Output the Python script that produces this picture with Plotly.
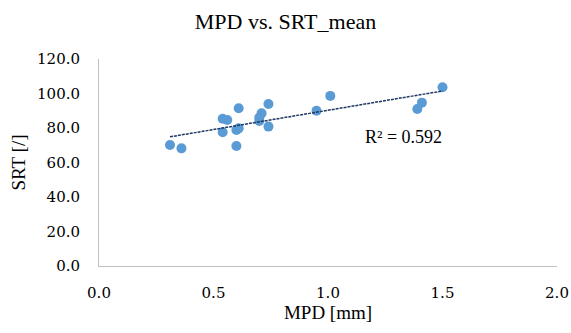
import numpy as np
import plotly.graph_objects as go

mpd = [0.31, 0.36, 0.54, 0.54, 0.56, 0.61, 0.60, 0.60, 0.61, 0.70, 0.71, 0.70, 0.74, 0.74, 0.95, 1.01, 1.39, 1.41, 1.50]
srt = [70.1, 68.2, 77.5, 85.4, 84.6, 91.4, 69.6, 78.8, 79.8, 84.1, 88.5, 86.0, 93.9, 80.8, 90.0, 98.6, 91.0, 94.7, 103.6]
r2_label = "R² = 0.592"
title = "MPD vs. SRT_mean"
x_title = "MPD [mm]"
y_title = "SRT [/]"

x = np.array(mpd)
y = np.array(srt)
slope, intercept = np.polyfit(x, y, 1)
xt = np.array([x.min(), x.max()])
yt = slope * xt + intercept

FONT = "Liberation Serif, Times New Roman, serif"
TICKFONT = "DejaVu Serif, serif"


def f(size, family=FONT):
    return dict(family=family, size=size, color="#000000")


fig = go.Figure()
fig.add_trace(go.Scatter(x=mpd, y=srt, mode="markers",
                         marker=dict(color="#5B9BD5", size=10), showlegend=False,
                         hoverinfo="skip"))
fig.add_trace(go.Scatter(x=xt, y=yt, mode="lines",
                         line=dict(color="#1F3864", width=1.5, dash="3px,1px"), showlegend=False,
                         hoverinfo="skip"))
fig.add_annotation(x=1.33, y=75, text=r2_label, showarrow=False, font=f(18))

fig.update_layout(
    template="none",
    width=571, height=333,
    margin=dict(l=99, r=14, t=59, b=67, autoexpand=False),
    paper_bgcolor="white", plot_bgcolor="white",
    title=dict(text=title, x=0.5, xanchor="center", y=1 - 21 / 333, yref="container",
               yanchor="middle", font=f(22)),
    font=f(18),
    xaxis=dict(range=[0, 2.0], tickvals=[0, 0.5, 1.0, 1.5, 2.0],
               ticktext=["0.0", "0.5", "1.0", "1.5", "2.0"],
               showgrid=False, zeroline=False, showline=True, linecolor="#BFBFBF",
               linewidth=1, ticks="outside", ticklen=13, tickcolor="rgba(0,0,0,0)",
               tickfont=f(15, TICKFONT), automargin=False,
               title=dict(text=x_title, standoff=4, font=f(19))),
    yaxis=dict(range=[0, 120], tickvals=[0, 20, 40, 60, 80, 100, 120],
               ticktext=["0.0", "20.0", "40.0", "60.0", "80.0", "100.0", "120.0"],
               showgrid=False, zeroline=False, showline=True, linecolor="#BFBFBF",
               linewidth=1, ticks="outside", ticklen=15, tickcolor="rgba(0,0,0,0)",
               tickfont=f(15, TICKFONT), automargin=False,
               title=dict(text=y_title, standoff=6, font=f(19))),
)
fig.write_html("out.html", config={"displayModeBar": False},
               post_script="document.body.style.margin='0px';")
